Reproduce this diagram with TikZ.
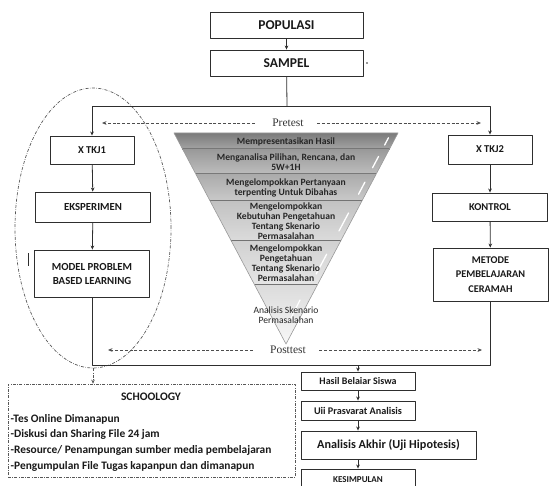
\documentclass[tikz,border=0pt]{standalone}
\usepackage{fontspec}
\setmainfont{Carlito}
\newfontfamily\hurufserif{Liberation Serif}
\usetikzlibrary{shapes.geometric,arrows.meta,calc}
\definecolor{garis}{HTML}{2E2E2E}
\tikzset{
	kotak/.style={draw=garis,line width=0.9pt,fill=white,align=center,inner sep=0pt,text=black!90},
	panah/.style={-{Stealth[length=4pt,width=3.6pt]},line width=0.8pt,draw=garis},
	putus/.style={-{Stealth[length=4.5pt,width=3.8pt]},dash pattern=on 3pt off 1.8pt,line width=0.8pt,draw=garis!85},
	titiktitik/.style={dash pattern=on 3pt off 1.4pt on 0.6pt off 1.4pt,line width=0.7pt,draw=garis!80},
	lapis/.style={font=\bfseries\fontsize{9.6}{10}\selectfont,align=center,inner sep=0pt,text=black!85},
}
\begin{document}
\begin{tikzpicture}[x=1pt,y=-1pt,line join=round]
	\useasboundingbox (0,0) rectangle (553,486);
	\clip (0,0) rectangle (553,486);
	%Corong (piramida terbalik)
	\foreach \ya/\yb/\ca/\cb in {133/149/black!52/black!36,149/174/black!40/black!26,174/201/black!33/black!21,201/241/black!24/black!14,241/285/black!18/black!10}{
		\pgfmathsetmacro\ha{0.53081*(344-\ya)}
		\pgfmathsetmacro\hb{0.53081*(344-\yb)}
		\shade[top color=\ca,bottom color=\cb] (286-\ha,\ya) -- (286+\ha,\ya) -- (286+\hb,\yb) -- (286-\hb,\yb) -- cycle;
		\draw[black!55,line width=1.1pt] (286-\hb,\yb) -- (286+\hb,\yb);
		\draw[white,line width=1.3pt,line cap=round] ($(286+\ha,\ya)!0.3!(286+\hb,\yb)+(-7,0)$) -- ($(286+\ha,\ya)!0.75!(286+\hb,\yb)+(-7,0)$);
	}
	\shade[top color=black!14,bottom color=black!3] (254.7,285) -- (317.3,285) -- (286,344) -- cycle;
	\draw[white,line width=1.3pt,line cap=round] (300,300) -- (289,322);
	\draw[black!40,line width=0.6pt] (174,133) -- (398,133) -- (286,344) -- cycle;
	\node[lapis] (f1) at (286,142) {Mempresentasikan Hasil};
	\node[lapis] (f2) at (286,162) {Menganalisa Pilihan, Rencana, dan\\5W+1H};
	\node[lapis] (f3) at (286,187.5) {Mengelompokkan Pertanyaan\\terpenting Untuk Dibahas};
	\node[lapis] (f4) at (286,221) {Mengelompokkan\\Kebutuhan Pengetahuan\\Tentang Skenario\\Permasalahan};
	\node[lapis] (f5) at (286,263) {Mengelompokkan\\Pengetahuan\\Tentang Skenario\\Permasalahan};
	\node[lapis,font=\fontsize{9.6}{10}\selectfont] (f6) at (286,315.5) {Analisis Skenario\\Permasalahan};
	%Kotak utama
	\node[kotak,minimum width=153pt,minimum height=26pt,font=\bfseries\fontsize{13.5}{15}\selectfont] (pop) at (286.5,25) {POPULASI};
	\node[kotak,minimum width=153pt,minimum height=26pt,font=\bfseries\fontsize{13.5}{15}\selectfont] (sampel) at (286.5,63) {SAMPEL};
	\node[kotak,minimum width=84pt,minimum height=28pt,font=\bfseries\fontsize{10.5}{12}\selectfont] (tkj1) at (92,150) {X TKJ1};
	\node[kotak,minimum width=115pt,minimum height=30pt,font=\bfseries\fontsize{10.8}{12}\selectfont] (eks) at (93,207) {EKSPERIMEN};
	\node[kotak,minimum width=115pt,minimum height=47pt,font=\bfseries\fontsize{10.8}{14}\selectfont] (mbl) at (92,273.5) {MODEL PROBLEM\\BASED LEARNING};
	\node[kotak,minimum width=84pt,minimum height=29pt,font=\bfseries\fontsize{10.5}{12}\selectfont] (tkj2) at (490,149.5) {X TKJ2};
	\node[kotak,minimum width=115pt,minimum height=28pt,font=\bfseries\fontsize{10.5}{12}\selectfont] (kontrol) at (490,207) {KONTROL};
	\node[kotak,minimum width=115pt,minimum height=53pt,font=\bfseries\fontsize{10.3}{14.5}\selectfont] (metode) at (490.5,274.5) {METODE\\PEMBELAJARAN\\CERAMAH};
	\node[kotak,minimum width=114pt,minimum height=18pt,font=\bfseries\fontsize{10}{11}\selectfont] (hasil) at (358,381) {Hasil Belaiar Siswa};
	\node[kotak,minimum width=114pt,minimum height=19pt,font=\bfseries\fontsize{10.2}{11}\selectfont] (uji) at (358,410.5) {Uii Prasvarat Analisis};
	\node[kotak,minimum width=175pt,minimum height=28pt,font=\bfseries\fontsize{12.2}{13}\selectfont] (akhir) at (388.5,445) {Analisis Akhir (Uji Hipotesis)};
	\node[kotak,minimum width=114pt,minimum height=22pt,font=\bfseries\fontsize{9}{10}\selectfont] (kes) at (358,480) {KESIMPULAN};
	%Kelompok eksperimen dan Schoology
	\node[draw,ellipse,titiktitik,minimum width=156pt,minimum height=280pt,inner sep=0pt] (grup) at (93,228) {};
	\node[draw,titiktitik,minimum width=287pt,minimum height=93pt,inner sep=0pt] (sch) at (151.5,430.5) {};
	\node[font=\bfseries\fontsize{11.5}{13}\selectfont,text=black!90] (schjudul) at (151,397) {SCHOOLOGY};
	\node[anchor=north west,align=left,inner sep=0pt,font=\bfseries\fontsize{11.4}{15.6}\selectfont,text=black!90] (schisi) at (10.5,414) {-Tes Online Dimanapun\\-Diskusi dan Sharing File 24 jam\\-Resource/ Penampungan sumber media pembelajaran\\-Pengumpulan File Tugas kapanpun dan dimanapun};
	%Pretest dan Posttest
	\node[font=\hurufserif\fontsize{11.5}{13}\selectfont,text=black!80] (pre) at (288,123) {Pretest};
	\node[font=\hurufserif\fontsize{11.5}{13}\selectfont,text=black!80] (post) at (288,350) {Posttest};
	\coordinate (preL) at (102,123);
	\coordinate (preR) at (481,123);
	\coordinate (postL) at (108,350);
	\coordinate (postR) at (482,350);
	\coordinate (cab) at (287,106);
	\coordinate (gabL) at (92,365);
	\coordinate (gabR) at (490.5,365);
	%Penghubung
	\draw[panah] (pop) -- (sampel);
	\draw[garis,line width=0.8pt] (sampel) -- (cab);
	\draw[panah] (cab) -| (tkj1);
	\draw[panah] (cab) -| (tkj2);
	\draw[panah] (tkj1) -- (eks);
	\draw[panah] (eks) -- (mbl);
	\draw[panah] (tkj2) -- (kontrol);
	\draw[panah] (kontrol) -- (metode);
	\draw[garis,line width=0.9pt] (mbl.south) -- (gabL) -- (gabR) -- (metode.south);
	\draw[panah] (hasil.north |- gabR) -- (hasil.north);
	\draw[panah] (hasil) -- (uji);
	\draw[panah] (uji.south) -- (uji.south |- akhir.north);
	\draw[panah] (uji.south |- akhir.south) -- (kes.north);
	\draw[putus,shorten <=14pt] (pre) -- (preL);
	\draw[putus,shorten <=10pt] (pre) -- (preR);
	\draw[putus,shorten <=14pt] (post) -- (postL);
	\draw[putus,shorten <=10pt] (post) -- (postR);
	\draw[titiktitik,-{Stealth[length=4pt,width=3.6pt]}] (grup.south) -- (grup.south |- sch.north);
	%Tanda kecil
	\fill[garis] (367,63) circle (0.8pt);
	\draw[garis,line width=0.9pt] (28,253) -- (28,266);
\end{tikzpicture}
\end{document}
